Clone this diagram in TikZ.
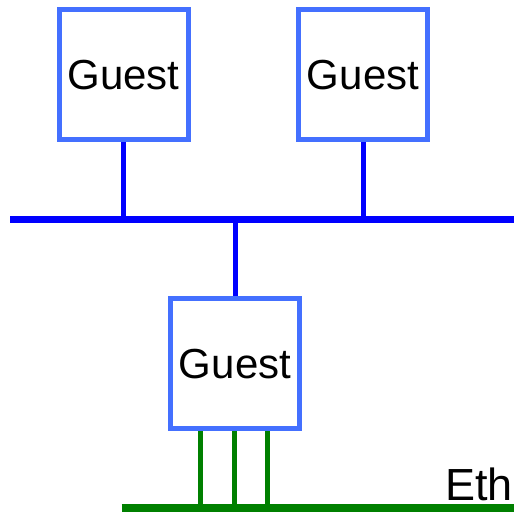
\documentclass[tikz,border=0pt]{standalone}
\usepackage{fontspec}
\setmainfont{Liberation Sans}
\usetikzlibrary{calc}
\definecolor{boxblue}{RGB}{68,112,255}
\definecolor{busblue}{RGB}{0,0,255}
\definecolor{ethgreen}{RGB}{0,128,0}
\begin{document}
\begin{tikzpicture}[x=1pt,y=1pt,
  guest/.style={draw=boxblue,line width=5pt,fill=white,minimum width=129pt,minimum height=130pt,inner sep=0pt,
    font=\fontsize{42}{50}\selectfont},
  link/.style={draw=busblue,line width=5pt},
  bus/.style={draw=busblue,line width=7pt},
  elink/.style={draw=ethgreen,line width=5pt},
  ebus/.style={draw=ethgreen,line width=8pt}]
\useasboundingbox (0,0) rectangle (514,512);
\coordinate (busL) at (10,292.5);
\coordinate (busR) at (514,292.5);
\coordinate (ethL) at (121.7,4.5);
\coordinate (ethR) at (514,4.5);
\node[guest] (g1) at (123.5,437) {Guest};
\node[guest] (g2) at (363,437) {Guest};
\node[guest] (g3) at (235,148.3) {Guest};
\node[anchor=base west,inner sep=0pt,font=\fontsize{45}{54}\selectfont] (eth) at (445,12) {Eth};
\draw[bus] (busL) -- (busR);
\draw[link] (g1.south) -- (g1.south |- busL);
\draw[link] (g2.south) -- (g2.south |- busL);
\draw[link] (g3.north |- busL) -- (g3.north);
\draw[ebus] (ethL) -- (ethR);
\foreach \f/\n in {0.245/a,0.495/b,0.74/c}{
  \coordinate (p\n) at ($(g3.south west)!\f!(g3.south east)$);
  \draw[elink] (p\n) -- (p\n |- ethL);
}
\end{tikzpicture}
\end{document}
